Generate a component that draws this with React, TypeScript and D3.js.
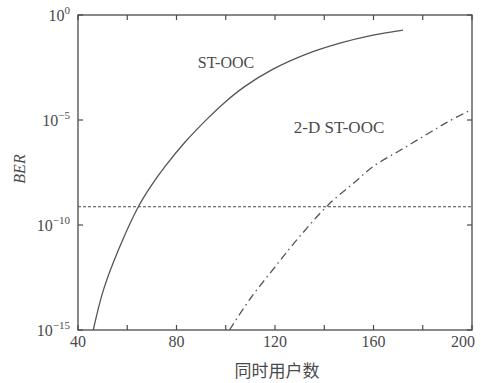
import React from "react";
import * as d3 from "d3";

const xTicks = [40, 60, 80, 100, 120, 140, 160, 180, 200];
const xTickLabels = [40, 80, 120, 160, 200];
const yTickExps = [0, -5, -10, -15];

// ST-OOC (solid): users, log10(BER)
const stUsers = [46.2, 50.3, 56.4, 64.5, 69.9, 75.3, 83.5, 92.9, 99.7, 107.8, 119.2, 133, 146.4, 159.8, 172];
const stLogBer = [-15, -13.1, -11.19, -9.13, -8.1, -7.22, -6.05, -4.9, -4.15, -3.4, -2.58, -1.85, -1.34, -0.96, -0.72];

// 2-D ST-OOC (dash-dot)
const st2dUsers = [101.5, 110, 120, 130, 142, 152, 160, 170, 180, 190, 199];
const st2dLogBer = [-15, -13.5, -12.0, -10.55, -9.0, -8.0, -7.2, -6.5, -5.8, -5.1, -4.55];

const thresholdBer = 7.4e-10;

const W = 481, H = 383;
const L = 78, R = 472, T = 15, B = 330;
const serif = "'Liberation Serif', 'Times New Roman', serif";
const ink = "#4a4a4a";

export default function App() {
  const x = d3.scaleLinear().domain([40, 200]).range([L, R]);
  const y = d3.scaleLog().domain([1e-15, 1]).range([B, T]);

  const line = d3
    .line<[number, number]>()
    .x((d) => x(d[0]))
    .y((d) => y(Math.pow(10, d[1])))
    .curve(d3.curveCatmullRom.alpha(0.5));

  const st = stUsers.map((u, i) => [u, stLogBer[i]] as [number, number]);
  const st2 = st2dUsers.map((u, i) => [u, st2dLogBer[i]] as [number, number]);

  return (
    <svg
      width={W}
      height={H}
      style={{ position: "absolute", left: 0, top: 0, background: "#fff" }}
      fontFamily={serif}
    >
      <rect x={0} y={0} width={W} height={H} fill="#fff" />
      <defs>
        <clipPath id="plot">
          <rect x={L} y={T} width={R - L} height={B - T} />
        </clipPath>
      </defs>
      {/* frame */}
      <rect x={L} y={T} width={R - L} height={B - T} fill="none" stroke={ink} strokeWidth={1.3} />
      {/* x ticks */}
      {xTicks.map((t) => (
        <g key={"xt" + t}>
          <line x1={x(t)} x2={x(t)} y1={B} y2={B - 5} stroke={ink} strokeWidth={1.2} />
          <line x1={x(t)} x2={x(t)} y1={T} y2={T + 5} stroke={ink} strokeWidth={1.2} />
        </g>
      ))}
      {xTickLabels.map((t) => (
        <text
          key={"xl" + t}
          x={t === 200 ? x(t) + 3 : x(t)}
          y={347}
          textAnchor={t === 200 ? "end" : "middle"}
          fontSize={16}
          fill={ink}
        >
          {t}
        </text>
      ))}
      {/* y ticks */}
      {yTickExps.map((e) => (
        <g key={"yt" + e}>
          <line x1={L} x2={L + 5} y1={y(Math.pow(10, e))} y2={y(Math.pow(10, e))} stroke={ink} strokeWidth={1.2} />
          <line x1={R} x2={R - 5} y1={y(Math.pow(10, e))} y2={y(Math.pow(10, e))} stroke={ink} strokeWidth={1.2} />
          <text x={L - 8} y={y(Math.pow(10, e)) + 6} textAnchor="end" fontSize={16} fill={ink}>
            10
            <tspan dy={-7} fontSize={11}>
              {e === 0 ? "0" : "\u2212" + Math.abs(e)}
            </tspan>
          </text>
        </g>
      ))}
      {/* threshold dotted line */}
      <line
        x1={L}
        x2={R}
        y1={y(thresholdBer)}
        y2={y(thresholdBer)}
        stroke={ink}
        strokeWidth={1.2}
        strokeDasharray="3,2"
      />
      {/* curves */}
      <g clipPath="url(#plot)">
        <path d={line(st) || ""} fill="none" stroke="#555" strokeWidth={1.3} />
        <path d={line(st2) || ""} fill="none" stroke="#555" strokeWidth={1.3} strokeDasharray="8,4,1.5,4" />
      </g>
      {/* labels */}
      <text x={226} y={68} textAnchor="middle" fontSize={16} fill={ink}>
        ST-OOC
      </text>
      <text x={339} y={133} textAnchor="middle" fontSize={17} fill={ink}>
        2-D ST-OOC
      </text>
      <text
        transform="translate(25,169) rotate(-90)"
        textAnchor="middle"
        fontSize={16}
        fontStyle="italic"
        fill={ink}
      >
        BER
      </text>
      <text
        x={277}
        y={377}
        textAnchor="middle"
        fontSize={17}
        fill={ink}
        fontFamily="'Noto Sans CJK SC', sans-serif"
      >
        同时用户数
      </text>
    </svg>
  );
}
